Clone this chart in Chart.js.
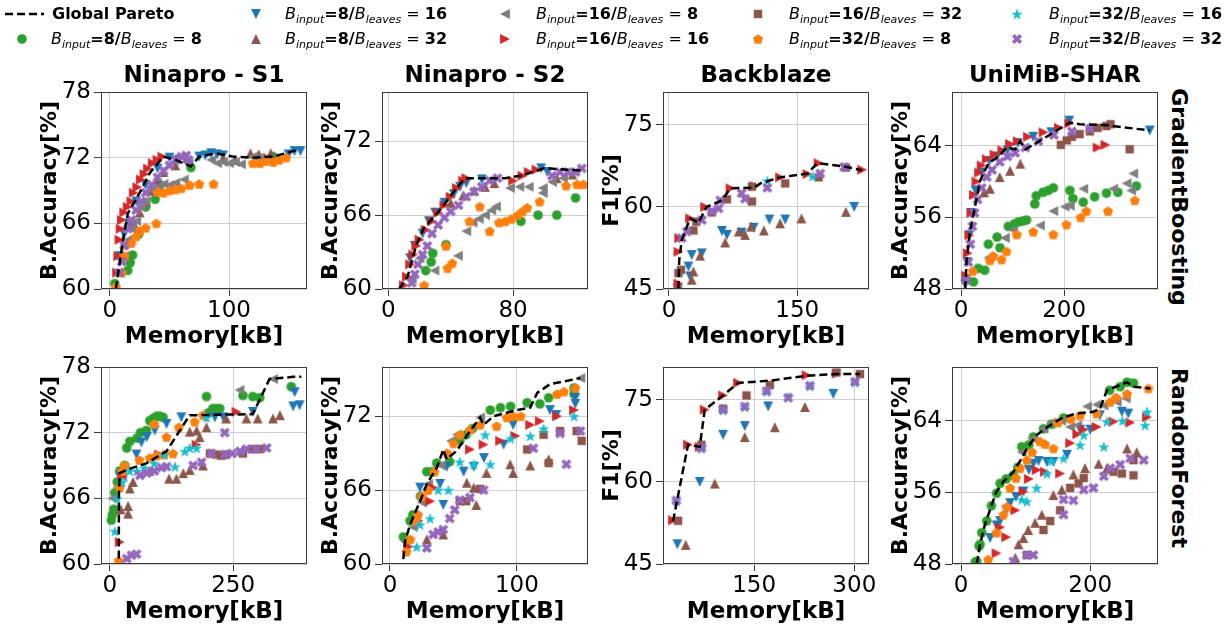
<!DOCTYPE html>
<html>
<head>
<meta charset="utf-8">
<script src="https://cdn.jsdelivr.net/npm/chart.js@4.4.0/dist/chart.umd.min.js"></script>
<style>
  body { margin: 0; background: #fff; width: 1228px; height: 630px; overflow: hidden; position: relative; font-family: "DejaVu Sans", sans-serif; }
  canvas { position: absolute; }
  .lg { position: absolute; font-size: 16px; line-height: 20px; white-space: nowrap; color: #000; }
  .lg sub { font-size: 11px; font-style: italic; vertical-align: -4px; line-height: 0; }
  .rowlabel { position: absolute; font-weight: bold; font-size: 22px; writing-mode: vertical-rl; transform: translate(-50%, -50%); white-space: nowrap; }
</style>
</head>
<body>
<canvas id="legend" width="1228" height="55" style="left:0;top:0"></canvas>
<div class="rowlabel" style="left:1179px;top:197px">GradientBoosting</div>
<div class="rowlabel" style="left:1179px;top:458px">RandomForest</div>

<script>
// ---- dati: [memoria kB, accuratezza/F1 %] ----

// Ninapro - S1, GradientBoosting
var s1GbPareto = [[5,60],[7,61.5],[11,64.5],[15,66.9],[25,68.8],[33.5,70.6],[45,72.1],[55,71.8],[68,71.2],[75,72.1],[89,72.4],[103,72.1],[120,72],[137,72.1],[154,72.6],[159,72.8]];
var s1GbB8L8 = [[4,60.5],[15,61.7],[17,62.4],[19,63.1],[24,65],[30,67.5],[38,68.2],[42,69.5],[68,71.1],[137,72.1]];
var s1GbB8L16 = [[8,63],[12,65],[16,66],[22,68],[30,69.5],[40,71],[50,72],[58,71.8],[75,72.1],[80,72.2],[85,72.4],[90,72.3],[95,72.2],[150,72.3],[155,72.6],[160,72.6]];
var s1GbB8L32 = [[20,66],[25,67],[30,68],[35,69],[40,70],[45,70.7],[55,71.3],[65,72],[95,71.9],[105,71.8],[118,72.4],[125,72.3],[130,72],[135,72.4]];
var s1GbB16L8 = [[12,63],[15,64.5],[18,65.5],[22,66.2],[26,67.5],[30,68],[35,69],[40,69.3],[45,69.6],[50,69.5],[55,69.7],[62,70],[66,71.5],[85,71.8],[90,71.5],[95,71.6],[100,71.5],[105,71.6],[110,71.4],[120,72.1],[125,72]];
var s1GbB16L16 = [[6,61.5],[7,63],[8,64.5],[9,65.5],[10,66.3],[12,67],[15,67.5],[18,68],[20,68.8],[23,69.3],[26,70],[29,70.5],[32,71],[36,71.5],[40,71.8],[44,72.1]];
var s1GbB16L32 = [];
var s1GbB32L8 = [[5,60.2],[10,61.5],[12,63],[13,64],[18,64.2],[22,64.8],[25,65.3],[30,65.6],[39,66],[40,68.9],[45,68.8],[50,69],[55,69.1],[60,69.2],[67,69.5],[75,69.6],[87,69.6],[120,71.5],[126,71.5],[131,71.7],[137,71.6],[142,71.8],[148,72]];
var s1GbB32L16 = [];
var s1GbB32L32 = [[8,61.5],[10,62.5],[12,64],[15,65.5],[18,66.3],[22,67.2],[26,68],[30,68.8],[35,69.5],[40,70.2],[45,70.8],[50,71.3],[55,71.8],[60,72.1],[64,72.2],[66,71.8]];

// Ninapro - S2, GradientBoosting
var s2GbPareto = [[7,60],[12.4,61],[17.8,63.5],[23,65],[29.6,65.9],[35,66.7],[41.4,67.8],[49,69],[61,69],[75,69],[85,69.2],[95,69.6],[100,69.8],[125,69.6]];
var s2GbB8L8 = [[24,61.5],[27.5,62.2],[28.5,62.9],[37,63.6],[85,65.5],[96,66],[108,66],[120,67.4]];
var s2GbB8L16 = [[14,62.5],[17,63.5],[22,64.5],[26,65.5],[30,66.2],[36,67],[42,67.7],[46,68.3],[50,68.6],[60,68.9],[98,69.8],[102,69.5]];
var s2GbB8L32 = [[40,67],[48,67.6],[55,68],[62,68.3],[68,68.6],[108,69],[118,69.3]];
var s2GbB16L8 = [[15,60.8],[20,62.5],[29.6,61.5],[44.6,62.7],[50,64.7],[54,65.4],[58,65.7],[62,66],[66,66.4],[69,66.7],[78,68.2],[84,68.3],[90,68.3],[99,68.2],[99,67.8],[105,68.7],[112,69]];
var s2GbB16L16 = [[10,60.3],[12,61],[14,62],[16,62.8],[18,63.5],[20,64],[24,64.8],[28,65.5],[32,66.2],[36,66.8],[40,67.5],[44,68.2],[48,68.8],[50,69],[80,68.8],[86,69.2],[90,69.5],[95,69.7]];
var s2GbB16L32 = [];
var s2GbB32L8 = [[23,60.3],[38,61.7],[41,62.1],[37,63.5],[52,65.5],[58.6,66.7],[65,64.7],[71,65.4],[75,65.5],[79,65.7],[83,66],[86,66.3],[89,66.6],[97,67.1],[114,68.4],[121,68.5],[125,68.5]];
var s2GbB32L16 = [];
var s2GbB32L32 = [[15,60.5],[17,61.2],[19,62],[22,62.8],[25,63.5],[28,64.5],[32,65.2],[36,65.8],[40,66.3],[45,66.8],[50,67.5],[55,67.9],[60,68.3],[65,68.8],[70,69],[105,69.2],[110,69.5],[115,69.5],[120,69.5],[124,69.8]];

// Backblaze, GradientBoosting
var bbGbPareto = [[11,45],[12,50.3],[15,54],[24.7,57.9],[34.5,57.1],[44,60],[62,61.2],[71.7,63.4],[99,63.5],[107,64.3],[130,65.4],[162,66.1],[173.5,68],[205,67.4],[226,66.7]];
var bbGbB8L8 = [];
var bbGbB8L16 = [[10,45],[22.7,49.1],[24.7,47.3],[26.6,51.2],[38.4,51.5],[62,55.6],[67.8,54.9],[85,55.3],[99,56.2],[117.5,57.7],[136,57.7],[216.6,60]];
var bbGbB8L32 = [[12,45.5],[26.6,46.7],[28.6,48.2],[36.4,51.1],[65.8,53.5],[81.5,55.5],[89,54.9],[96,56.4],[111,55.7],[130,57],[155,57.9],[207,59.1]];
var bbGbB16L8 = [];
var bbGbB16L16 = [[11,46],[11,51.8],[12,54.3],[24.7,57.9],[42.3,60],[72,63.4],[100,63.8],[130,65.4],[162,66],[175,68],[226,66.8]];
var bbGbB16L32 = [[11,47.9],[14,48.5],[28.6,55.7],[32,57.3],[50,59],[67.8,61.4],[97,63.7],[97,61],[136,64.3],[175,65.4],[207,67.2]];
var bbGbB32L8 = [];
var bbGbB32L16 = [[115,64.8],[168,65.6]];
var bbGbB32L32 = [[15,54.3],[20.8,55.5],[38.4,57.6],[50,59.2],[58,59.7],[60,61.2],[85,62.5],[89,61.5],[115,63.5],[177,66.1],[205,67.3]];

// UniMiB-SHAR, GradientBoosting
var uniGbPareto = [[8,48],[11,51.3],[17,54.2],[27,57.2],[37,60.1],[53,62],[75,62.9],[88,63.8],[105,63.6],[115,64.5],[125,63.6],[160,64.8],[211,66.6],[230,66.4],[282,66.3],[366,65.7]];
var uniGbB8L8 = [[24,48.8],[33.5,50.3],[46,50.1],[53,53],[70,53.8],[75.5,52.6],[91.6,55],[104,55.3],[112,55.5],[120,55.6],[127,55.7],[143,57.5],[146,58.4],[159,58.8],[169,59],[179,59.3],[211,59],[217,58.1],[237,57.7],[259,58.3],[282,58.7],[304,58.8],[340,59.5]];
var uniGbB8L16 = [[8,48.5],[12,51],[16,54],[20,56.5],[28,59],[40,61],[55,62.3],[70,62.8],[90,63.5],[110,64.3],[140,65],[175,65.5],[210,66.8],[366,65.7]];
var uniGbB8L32 = [[45,58.8],[56,59.2],[75,60.5],[95,61.2],[115,62]];
var uniGbB16L8 = [[53,51.5],[85,53.7],[101,54.6],[153,55.1],[179,56.7],[201,57.2],[211,57.3],[237,59.2],[295,59.2],[321,59.8],[334,60.9],[330,59]];
var uniGbB16L16 = [[10,49.5],[13,52],[16,54],[20,56.5],[25,58.5],[30,60],[35,61],[40,61.8],[50,62.5],[65,63],[80,63.5],[95,64.2],[110,64.5],[130,65],[160,65.5],[190,66],[210,66.5],[265,63.8],[280,64.1]];
var uniGbB16L32 = [[193.5,64.1],[205,64.6],[215,65],[230,65.3],[250,65.6],[265,66],[282,66.2],[290,66.4],[327,63.6]];
var uniGbB32L8 = [[22.6,50],[56,51.2],[62.6,51.7],[78.7,51.3],[88,52.2],[108,54.1],[140,54.4],[179,54.1],[204.5,55.2],[232,56],[243,56.7],[285,56.7],[337,57.9]];
var uniGbB32L16 = [];
var uniGbB32L32 = [[10,49],[14,51],[18,53],[22,55],[26,56.5],[32,58],[40,59.3],[50,60.5],[60,61.3],[75,62.2],[90,62.8],[105,63.2],[125,63.8],[150,64.5],[180,65.2],[215,65.6],[250,65.9]];

// Ninapro - S1, RandomForest
var s1RfPareto = [[18.2,60.5],[18.2,66],[20,68.3],[34,68.6],[74,69.2],[115,70.3],[142,72.2],[162,73.6],[182,73.6],[290,73.7],[324,76.9],[372,77.1],[388.5,77.1]];
var s1RfB8L8 = [[3,64],[5,64.5],[8,65],[10,66.5],[15,67.5],[20,68.5],[30,69],[34,70.6],[40.5,71.2],[55,71.5],[62,72],[74,72.2],[81,73.1],[88,73.3],[95,73.5],[101,73.5],[108,73.4],[196,75.3],[200,73.8],[209,74.2],[216,74.2],[223,74.2],[270,75.4],[290,75.3],[304,75.2],[368,76.2]];
var s1RfB8L16 = [[20,68],[54,70],[64,71.1],[75,71.6],[91,72.2],[115,72.8],[145,73.4],[196,73.4],[213,73.4],[230,73.4],[290,73.9],[375,75.7],[372,74.4],[385,74.5]];
var s1RfB8L32 = [[22,65],[37,65.3],[37,64.6],[40.5,66.9],[47,67.5],[80,68.5],[120,67.8],[135,67.8],[149,68.3],[162,72.1],[176,72.2],[182,71.6],[196,72.5],[236,73.3],[277,73.3],[300,73.3],[331,73.3],[345,73.6],[162,68.6],[189,69]];
var s1RfB16L8 = [[5,66],[15,67],[25,68],[263,75.9],[331,76.9]];
var s1RfB16L16 = [[20,62],[25,68],[100,70],[176,70.9],[257,73.9]];
var s1RfB16L32 = [[203,70.1],[216,70],[226,69.9],[236,70],[270,70.1],[290,70.5],[304,70.5]];
var s1RfB32L8 = [[18,60.3],[20,67],[25,68.5],[30,69],[60,69.5],[81,69.7],[95,69.9],[115,71.6],[110,70],[128,70.1],[140,72.5],[172,73],[189,73.6],[90,72.8]];
var s1RfB32L16 = [[10,63],[15,66],[25,67.5],[40,68.5],[55,68.5],[70,68.8],[90,69.2],[110,70],[132,68.9],[152,70.3],[162,70.6],[176,70.6],[196,73.4]];
var s1RfB32L32 = [[34,60.5],[44,60.8],[54,60.9],[61,68.1],[75,68.3],[90,68.5],[105,68.8],[115,68.9],[169,69],[186,69.3],[206,70.1],[233,72],[233,70],[248,70.1],[264,70.3],[277,70.5],[297,70.5],[318,70.6]];

// Ninapro - S2, RandomForest
var s2RfPareto = [[10.5,60.4],[11.8,61.8],[15.8,63.2],[23.7,65.1],[29,66.5],[36.8,67.8],[42,69.3],[44.7,68.5],[52.6,69.2],[63,70.8],[71,71.9],[73.7,71.3],[81.6,72],[100,72.5],[110.5,72.7],[116,73.9],[126,74.6],[150,75.1]];
var s2RfB8L8 = [[10.5,62.2],[15.8,63.5],[18,64],[24,65.5],[29,67.5],[33,67.5],[36.8,68.2],[47,68.3],[55,70],[60,70.5],[65,71],[79,72.5],[87,72.7],[95,72.8],[108,73.1],[118,73],[125,73.5],[145,73.8],[145,74.3]];
var s2RfB8L16 = [[23.7,66.2],[42,64.8],[39.5,66.5],[44.7,67.9],[58,67.5],[66,67.9],[74,68.6],[89.5,69.7],[97,71.3],[126,72.5],[131,72.1],[146,73],[146,73.5]];
var s2RfB8L32 = [[29,62],[42,62.4],[60.5,66.6],[66,66.2],[68,64.8],[76,67.4],[94.7,68.1],[97,67.4],[110.5,68],[125,68.5]];
var s2RfB16L8 = [[12,61.8],[18,63],[25,65],[30,66.5],[40,68],[48,70],[52.6,70.5],[71,71.9],[150,75.1]];
var s2RfB16L16 = [[14.5,61.4],[22.4,63.5],[31.6,65.1],[34,66.2],[63,69.3],[73.7,69.7],[86.8,70],[98.7,70.4],[110.5,71.3],[118,71.6],[131.6,72],[145,72.5]];
var s2RfB16L32 = [[55,65.1],[60,65.1],[71,66.1],[108,69.3],[121,70.5],[125,68.2],[134,70.8],[147,70.8],[151,70]];
var s2RfB32L8 = [[13,61],[16,62],[20,63.5],[22,64],[25,65.5],[30,66],[35,67.5],[45,69],[50,69.8],[55,70.5],[63,70.9],[71,71.3],[84,71.2],[92,71.9],[97,72],[103,72],[131.6,73.8],[137,74],[146,74.3]];
var s2RfB32L16 = [[21,61.4],[23.7,63.2],[31.6,63.7],[38,66],[46,66],[55,68.3],[66,68.1],[79,68.1],[75,70.5],[95,70.2],[110.5,70.4],[121,71],[145,72]];
var s2RfB32L32 = [[29,61.3],[34,62.4],[38,62.6],[42,62.8],[47,63.7],[51,64.4],[55,65.2],[63,65.4],[73.7,66],[113,69.4],[134,70.6],[139,68.1],[150,70.8]];

// Backblaze, RandomForest
var bbRfPareto = [[28.5,52.8],[51,66.8],[68.5,66.4],[76,73.2],[103.5,75.8],[126,78.1],[173.5,78.5],[228.5,79.4],[273.5,79.7],[308.5,79.7]];
var bbRfB8L8 = [];
var bbRfB8L16 = [[35,48.6],[68.5,60],[103.5,68.6],[136,70.2],[171,73.8],[268.5,76.1]];
var bbRfB8L32 = [[47.5,48.5],[91,59.7],[136,68.2],[181,70],[226,73.7]];
var bbRfB16L8 = [];
var bbRfB16L16 = [[28.5,53],[51,66.8],[68.5,66.4],[76,73.2],[103.5,75.8],[126,78.1],[228.5,79.5],[273.5,79.8]];
var bbRfB16L32 = [[36,52.9],[71,66.8],[103.5,73.4],[138.5,75.8],[173.5,77.7],[273.5,80],[308.5,79.7]];
var bbRfB32L8 = [];
var bbRfB32L16 = [[33.5,56.5],[71,66.1],[103.5,73.1],[136,73.7],[168.5,76.5],[201,75.5],[233.5,77.5],[301,78.2]];
var bbRfB32L32 = [[33.5,56.6],[71,66.2],[103.5,73.2],[136,73.8],[168.5,76.6],[201,75.4],[233.5,77.6],[301,78.3]];

// UniMiB-SHAR, RandomForest
var uniRfPareto = [[24.3,48],[29.5,50.2],[37,52.4],[47.5,54.6],[55,56.1],[65.6,57.2],[81,58.3],[94,59.8],[102,60.9],[117,62.4],[138,63.5],[158.7,64.4],[179,64.8],[205,65],[215.5,65.4],[226,67.4],[246.5,68],[257,68.3],[267,67.8],[293,67.6]];
var uniRfB8L8 = [[22,48.2],[24.3,48.3],[28,50],[29.5,50.2],[32,51.5],[39.8,52.8],[47,54.5],[55,55.9],[60.5,57],[70,57.5],[81,57.9],[88,58.8],[94,61.1],[105,61.3],[112,62.2],[127.6,63.1],[140,63.6],[158.7,64.3],[230,67.4],[246.5,67.8],[257,68.3],[267,68.2]];
var uniRfB8L16 = [[45,50.9],[55,52.3],[60.5,52.8],[70,54],[76,54.8],[85,55.5],[96.6,56.1],[105,58.5],[112,59.2],[120,59.5],[133,59.4],[143,59.4],[164,60.2],[184.5,63],[200,63],[215,64.6],[249,65],[259,64.8]];
var uniRfB8L32 = [[84,48.7],[89,50.2],[96.6,50.9],[104,51.8],[114.7,52.6],[125,53.5],[143,55.7],[156,56.3],[174,58],[192,58.7],[213,59.2],[226,58.7],[257,60.9],[272,60.5]];
var uniRfB16L8 = [[94,60.5],[110,62],[127.6,63.1],[140,63.8],[155,64],[169,63.3],[180,63.5],[195,65.6],[210,65.8],[220.7,65.7],[241,66.1],[255,66.5]];
var uniRfB16L16 = [[55,49.2],[60.5,52.1],[70,51],[84,54],[96.6,56.1],[105,57.5],[117,58.5],[130,58.3],[153.5,58.1],[169,61.5],[180,62.5],[190,63],[210,63.3],[236,63.9],[262,63.8],[288,64.4]];
var uniRfB16L32 = [[102,49],[127.6,51.8],[138,52.8],[153.5,54],[169,56.5],[182,57],[190,57.6],[236,58.3],[249,58.1],[267,57.9],[267,59.6]];
var uniRfB32L8 = [[42,48.5],[55,51.5],[65.6,53.5],[71,54.4],[76,56.5],[85,57.6],[91.5,58.7],[102,59.6],[110,60.5],[122,61.7],[130,61.4],[143,60.9],[150,63.8],[170,64.2],[184.5,64.6],[210,64.8],[231,66.1],[240,66.6],[257,67],[290,67.6]];
var uniRfB32L16 = [[94,55.2],[102,55],[117,56.5],[133,58.1],[140,59.5],[158.7,59.8],[184.5,61.3],[190,62.4],[221,61.1],[226,63.9],[250,64],[288,65],[285,63.5]];
var uniRfB32L32 = [[81,48.3],[102,49],[112,49],[158.7,53.5],[158.7,55.2],[174,55.1],[190,56.3],[205,56.5],[221,57.8],[231,58.7],[246.5,59.1],[262,59.8],[283,59.6]];

// assi: tick
var s1XTicks = [0, 100], s1YTicks = [60, 66, 72, 78];
var s2XTicks = [0, 80], s2YTicks = [60, 66, 72];
var bbXTicks = [0, 150], bbYTicks = [45, 60, 75];
var uniXTicks = [0, 200], uniYTicks = [48, 56, 64];
var s1RfXTicks = [0, 250], s2RfXTicks = [0, 100], bbRfXTicks = [150, 300];

var seriesNames = ["B8L8", "B8L16", "B8L32", "B16L8", "B16L16", "B16L32", "B32L8", "B32L16", "B32L32"];
var seriesInput = [8, 8, 8, 16, 16, 16, 32, 32, 32];
var seriesLeaves = [8, 16, 32, 8, 16, 32, 8, 16, 32];

// stile dei marker (colori tab10 di matplotlib)
var markerStyle = {
  B8L8:   { shape: "circle",  color: "#2ca02c" },
  B8L16:  { shape: "triDown", color: "#1f77b4" },
  B8L32:  { shape: "triUp",   color: "#8c564b" },
  B16L8:  { shape: "triLeft", color: "#7f7f7f" },
  B16L16: { shape: "triRight",color: "#d62728" },
  B16L32: { shape: "square",  color: "#8c564b" },
  B32L8:  { shape: "pentagon",color: "#ff7f0e" },
  B32L16: { shape: "star",    color: "#17becf" },
  B32L32: { shape: "xFilled", color: "#9467bd" }
};

var FONT = '"DejaVu Sans", sans-serif';
var panelLeft = [101, 382, 663, 952];
var panelTop = [92, 367];

// disegna un marker su un piccolo canvas, usato come pointStyle
function makeMarker(shape, color) {
  var c = document.createElement("canvas");
  c.width = 14; c.height = 14;
  var g = c.getContext("2d");
  var m = 7, r = 4.9;
  g.fillStyle = color;
  g.strokeStyle = color;
  g.beginPath();
  if (shape == "circle") {
    g.arc(m, m, 4.8, 0, Math.PI * 2);
  } else if (shape.indexOf("tri") == 0) {
    var pts = [[0, -r], [-r, r], [r, r]];
    var rot = { triUp: 0, triRight: Math.PI / 2, triDown: Math.PI, triLeft: -Math.PI / 2 }[shape];
    for (var i = 0; i < 3; i++) {
      var px = pts[i][0] * Math.cos(rot) - pts[i][1] * Math.sin(rot);
      var py = pts[i][0] * Math.sin(rot) + pts[i][1] * Math.cos(rot);
      if (i == 0) g.moveTo(m + px, m + py); else g.lineTo(m + px, m + py);
    }
    g.closePath();
  } else if (shape == "square") {
    g.rect(m - 4.2, m - 4.2, 8.4, 8.4);
  } else if (shape == "pentagon") {
    for (var i = 0; i < 5; i++) {
      var a = -Math.PI / 2 + i * 2 * Math.PI / 5;
      var px = m + 5.3 * Math.cos(a), py = m + 5.3 * Math.sin(a) + 0.5;
      if (i == 0) g.moveTo(px, py); else g.lineTo(px, py);
    }
    g.closePath();
  } else if (shape == "star") {
    for (var i = 0; i < 10; i++) {
      var a = -Math.PI / 2 + i * Math.PI / 5;
      var rr = (i % 2 == 0) ? 6 : 2.4;
      var px = m + rr * Math.cos(a), py = m + rr * Math.sin(a) + 0.6;
      if (i == 0) g.moveTo(px, py); else g.lineTo(px, py);
    }
    g.closePath();
  } else if (shape == "xFilled") {
    g.lineWidth = 3.7;
    g.moveTo(m - 3.8, m - 3.8); g.lineTo(m + 3.8, m + 3.8);
    g.moveTo(m + 3.8, m - 3.8); g.lineTo(m - 3.8, m + 3.8);
    g.stroke();
    return c;
  }
  g.fill();
  return c;
}

var markers = {};
seriesNames.forEach(function(k) {
  markers[k] = makeMarker(markerStyle[k].shape, markerStyle[k].color);
});

function toXY(arr) {
  return arr.map(function(p) { return { x: p[0], y: p[1] }; });
}

// cornice del pannello + titolo della colonna
var framePlugin = {
  id: "frame",
  afterDraw: function(chart, args, opts) {
    var a = chart.chartArea, ctx = chart.ctx;
    ctx.save();
    ctx.strokeStyle = "#3a3a3a";
    ctx.lineWidth = 1;
    ctx.strokeRect(a.left + 0.5, a.top + 0.5, a.right - a.left - 1, a.bottom - a.top - 1);
    if (opts.title) {
      ctx.fillStyle = "#000";
      ctx.font = "bold 23px " + FONT;
      ctx.textAlign = "center";
      ctx.textBaseline = "middle";
      ctx.fillText(opts.title, (a.left + a.right) / 2, a.top - 16);
    }
    ctx.restore();
  }
};

function makePanel(p) {
  var cv = document.createElement("canvas");
  cv.width = 326; cv.height = 299;
  cv.style.left = (panelLeft[p.col] - 100) + "px";
  cv.style.top = (panelTop[p.row] - 40) + "px";
  document.body.appendChild(cv);

  var datasets = [{
    label: "Global Pareto",
    data: toXY(p.pareto),
    showLine: true,
    borderColor: "#000",
    borderWidth: 2.5,
    borderDash: [8, 4],
    pointRadius: 0,
    order: 0
  }];
  for (var i = 0; i < seriesNames.length; i++) {
    datasets.push({
      label: seriesNames[i],
      data: toXY(p.series[i]),
      pointStyle: markers[seriesNames[i]],
      pointRadius: 5,
      order: 20 - i
    });
  }

  new Chart(cv, {
    type: "scatter",
    data: { datasets: datasets },
    plugins: [framePlugin],
    options: {
      responsive: false,
      animation: false,
      devicePixelRatio: 1,
      layout: { padding: { top: 40, right: 20, left: 0, bottom: 0 } },
      plugins: {
        legend: { display: false },
        tooltip: { enabled: false },
        frame: { title: p.title }
      },
      scales: {
        x: {
          type: "linear",
          min: p.xMin, max: p.xMax,
          afterBuildTicks: function(s) { s.ticks = p.xTicks.map(function(v) { return { value: v }; }); },
          afterFit: function(s) { s.height = 62; },
          border: { display: false },
          grid: { color: "#cfcfcf", lineWidth: 1, tickLength: 7, tickColor: "#3a3a3a" },
          ticks: { font: { family: FONT, size: 23 }, color: "#000", padding: 1, maxRotation: 0, autoSkip: false },
          title: { display: true, text: "Memory[kB]", font: { family: FONT, size: 23, weight: "bold" }, color: "#000", padding: { top: 0, bottom: 0 } }
        },
        y: {
          type: "linear",
          min: p.yMin, max: p.yMax,
          afterBuildTicks: function(s) { s.ticks = p.yTicks.map(function(v) { return { value: v }; }); },
          afterFit: function(s) { s.width = 100; },
          border: { display: false },
          grid: { color: "#cfcfcf", lineWidth: 1, tickLength: 7, tickColor: "#3a3a3a" },
          ticks: { font: { family: FONT, size: 23 }, color: "#000", padding: 3, autoSkip: false },
          title: { display: true, text: p.yLabel, font: { family: FONT, size: 22, weight: "bold" }, color: "#000", padding: { top: 36, bottom: 0 } }
        }
      }
    }
  });
}

var panels = [
  { row: 0, col: 0, title: "Ninapro - S1", yLabel: "B.Accuracy[%]", xMin: -7.5, xMax: 165.5, yMin: 60, yMax: 78, xTicks: s1XTicks, yTicks: s1YTicks,
    pareto: s1GbPareto, series: [s1GbB8L8, s1GbB8L16, s1GbB8L32, s1GbB16L8, s1GbB16L16, s1GbB16L32, s1GbB32L8, s1GbB32L16, s1GbB32L32] },
  { row: 0, col: 1, title: "Ninapro - S2", yLabel: "B.Accuracy[%]", xMin: -4, xMax: 128, yMin: 60, yMax: 76, xTicks: s2XTicks, yTicks: s2YTicks,
    pareto: s2GbPareto, series: [s2GbB8L8, s2GbB8L16, s2GbB8L32, s2GbB16L8, s2GbB16L16, s2GbB16L32, s2GbB32L8, s2GbB32L16, s2GbB32L32] },
  { row: 0, col: 2, title: "Backblaze", yLabel: "F1[%]", xMin: -7, xMax: 234, yMin: 45, yMax: 81, xTicks: bbXTicks, yTicks: bbYTicks,
    pareto: bbGbPareto, series: [bbGbB8L8, bbGbB8L16, bbGbB8L32, bbGbB16L8, bbGbB16L16, bbGbB16L32, bbGbB32L8, bbGbB32L16, bbGbB32L32] },
  { row: 0, col: 3, title: "UniMiB-SHAR", yLabel: "B.Accuracy[%]", xMin: -17.5, xMax: 382, yMin: 48, yMax: 70, xTicks: uniXTicks, yTicks: uniYTicks,
    pareto: uniGbPareto, series: [uniGbB8L8, uniGbB8L16, uniGbB8L32, uniGbB16L8, uniGbB16L16, uniGbB16L32, uniGbB32L8, uniGbB32L16, uniGbB32L32] },
  { row: 1, col: 0, title: "", yLabel: "B.Accuracy[%]", xMin: -18, xMax: 400, yMin: 60, yMax: 78, xTicks: s1RfXTicks, yTicks: s1YTicks,
    pareto: s1RfPareto, series: [s1RfB8L8, s1RfB8L16, s1RfB8L32, s1RfB16L8, s1RfB16L16, s1RfB16L32, s1RfB32L8, s1RfB32L16, s1RfB32L32] },
  { row: 1, col: 1, title: "", yLabel: "B.Accuracy[%]", xMin: -6.3, xMax: 156, yMin: 60, yMax: 76, xTicks: s2RfXTicks, yTicks: s2YTicks,
    pareto: s2RfPareto, series: [s2RfB8L8, s2RfB8L16, s2RfB8L32, s2RfB16L8, s2RfB16L16, s2RfB16L32, s2RfB32L8, s2RfB32L16, s2RfB32L32] },
  { row: 1, col: 2, title: "", yLabel: "F1[%]", xMin: 13.5, xMax: 322, yMin: 45, yMax: 81, xTicks: bbRfXTicks, yTicks: bbYTicks,
    pareto: bbRfPareto, series: [bbRfB8L8, bbRfB8L16, bbRfB8L32, bbRfB16L8, bbRfB16L16, bbRfB16L32, bbRfB32L8, bbRfB32L16, bbRfB32L32] },
  { row: 1, col: 3, title: "", yLabel: "B.Accuracy[%]", xMin: -14, xMax: 305, yMin: 48, yMax: 70, xTicks: uniXTicks, yTicks: uniYTicks,
    pareto: uniRfPareto, series: [uniRfB8L8, uniRfB8L16, uniRfB8L32, uniRfB16L8, uniRfB16L16, uniRfB16L32, uniRfB32L8, uniRfB32L16, uniRfB32L32] }
];

panels.forEach(makePanel);

// legenda in alto: marker sul canvas, testi in HTML
var legendX = [22, 256, 505, 758, 1017];
var legendTextX = [51, 285, 536, 789, 1049];
var legendY = [14, 39];

function legendLabel(bi, bl) {
  return "<i>B</i><sub>input</sub><b>=" + bi + "/</b><i>B</i><sub>leaves</sub> = <b>" + bl + "</b>";
}

function addText(html, x, y) {
  var d = document.createElement("div");
  d.className = "lg";
  d.style.left = x + "px";
  d.style.top = (y - 10) + "px";
  d.innerHTML = html;
  document.body.appendChild(d);
}

var lctx = document.getElementById("legend").getContext("2d");
lctx.strokeStyle = "#000";
lctx.lineWidth = 2.5;
lctx.setLineDash([8, 4]);
lctx.beginPath();
lctx.moveTo(5, legendY[0]);
lctx.lineTo(44, legendY[0]);
lctx.stroke();
addText("<b>Global Pareto</b>", 52, legendY[0]);

// le voci scorrono per colonna, due righe ciascuna
for (var i = 0; i < seriesNames.length; i++) {
  var slot = i + 1;
  var col = Math.floor(slot / 2), row = slot % 2;
  var mk = markers[seriesNames[i]];
  lctx.drawImage(mk, legendX[col] - 7, legendY[row] - 7);
  addText(legendLabel(seriesInput[i], seriesLeaves[i]), legendTextX[col], legendY[row]);
}
</script>
</body>
</html>
